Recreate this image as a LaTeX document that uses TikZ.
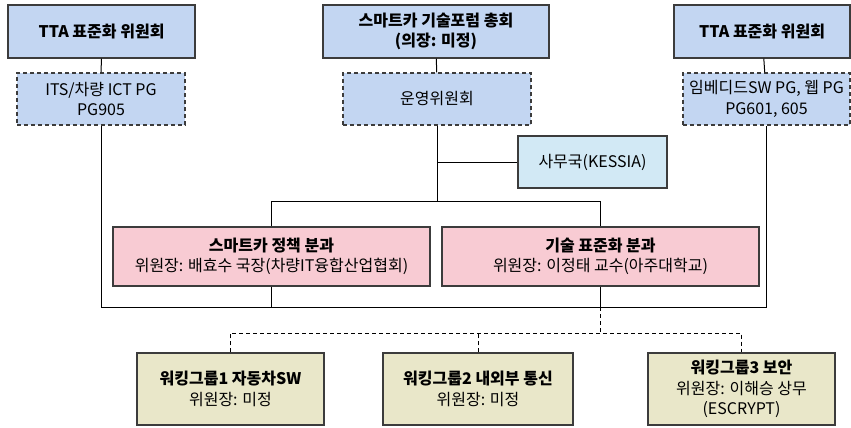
\documentclass[tikz,border=0pt]{standalone}
\usepackage{fontspec}
\setmainfont{Noto Sans CJK KR}
\usepackage{tikz}
\usetikzlibrary{calc,positioning}
\definecolor{boxblue}{HTML}{C3D6F2}
\definecolor{boxcyan}{HTML}{D2E9F5}
\definecolor{boxpink}{HTML}{F8CBD3}
\definecolor{boxkhaki}{HTML}{E9E7C9}
\definecolor{edge}{HTML}{3C3C3C}

\begin{document}
\begin{tikzpicture}[x=1pt,y=-1pt,
  box/.style={draw=edge,line width=1.1pt,align=center,inner sep=0pt,
    font=\fontsize{16}{20.5}\selectfont},
  topbox/.style={box,fill=boxblue,minimum height=53pt},
  pgbox/.style={box,fill=boxblue,dash pattern=on 4pt off 3pt,minimum height=52pt},
  partbox/.style={box,fill=boxpink,minimum width=317pt,minimum height=59pt},
  wgbox/.style={box,fill=boxkhaki,minimum height=72pt},
  link/.style={line width=1pt,black},
  dlink/.style={link,dash pattern=on 4pt off 3pt}]
\useasboundingbox (0,0) rectangle (851,428);
% upper row
\node[topbox,minimum width=187pt] (tta1) at (101.5,31.5) {\textbf{TTA 표준화 위원회}};
\node[topbox,minimum width=226pt] (forum) at (436,31.5) {\textbf{스마트카 기술포럼 총회}\\\textbf{(의장: 미정)}};
\node[topbox,minimum width=176pt] (tta2) at (762,31.5) {\textbf{TTA 표준화 위원회}};
\node[pgbox,minimum width=168pt] (pg905) at (101,99) {ITS/차량 ICT PG\\PG905};
\node[pgbox,minimum width=188pt] (opc) at (437,99) {운영위원회};
\node[pgbox,minimum width=167pt] (pg601) at (766.5,99) {임베디드SW PG, 웹 PG\\PG601, 605};
\node[box,fill=boxcyan,minimum width=149pt,minimum height=52pt] (office) at (592.5,162) {사무국(KESSIA)};
% divisions
\node[partbox] (policy) at (271.5,256.5) {\textbf{스마트카 정책 분과}\\위원장: 배효수 국장(차량IT융합산업협회)};
\node[partbox] (tech) at (600.5,256.5) {\textbf{기술 표준화 분과}\\위원장: 이정태 교수(아주대학교)};
% working groups
\node[wgbox,minimum width=187pt] (wg1) at (230.5,389) {\textbf{워킹그룹1 자동차SW}\\위원장: 미정};
\node[wgbox,minimum width=190pt] (wg2) at (478,389) {\textbf{워킹그룹2 내외부 통신}\\위원장: 미정};
\node[wgbox,minimum width=187pt] (wg3) at (741.5,389) {\textbf{워킹그룹3 보안}\\위원장: 이해승 상무\\(ESCRYPT)};

\coordinate (split) at ($(opc.south)+(0,76)$);
\coordinate (base) at (0,307);
\coordinate (hub) at ($(tech.south |- base)+(0,26)$);

\draw[link] (tta1) -- (pg905);
\draw[link] (forum) -- (opc);
\draw[link] (tta2) -- (pg601);
\draw[link] (opc.south) -- (split);
\draw[link] (opc.south |- office.west) -- (office.west);
\draw[link] (policy.north) |- (split) -| (tech.north);
\draw[link] (pg905.south) -- (pg905.south |- base) -- (pg601.south |- base) -- (pg601.south);
\draw[link] (policy.south) -- (policy.south |- base);
\draw[link] (tech.south) -- (tech.south |- base);
\draw[dlink] (tech.south |- base) -- (hub);
\draw[dlink] (wg1.north) |- (hub) -| (wg3.north);
\draw[dlink] (wg2.north) -- (wg2.north |- hub);
\end{tikzpicture}
\end{document}
